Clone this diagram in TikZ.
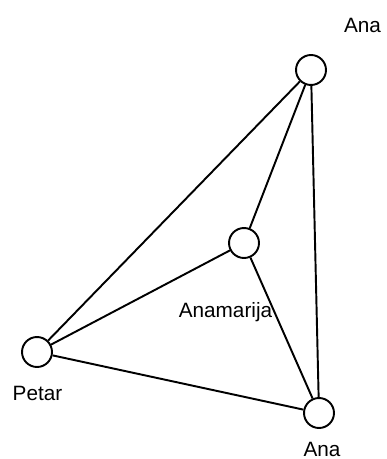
\documentclass[tikz,border=0pt]{standalone}
\usepackage{fontspec}
\setmainfont{Liberation Sans}
\usetikzlibrary{positioning}

\begin{document}
\begin{tikzpicture}[
	x=0.02cm, y=-0.02cm,
	% Styles
	person/.style={circle, draw=black, line width=1.1pt, minimum size=0.6cm, inner sep=0pt, fill=white},
	link/.style={line width=1.1pt, black},
	nametext/.style={font=\fontsize{11.8}{14}\selectfont, text=black, inner sep=0pt, anchor=base}
	]
	
	\useasboundingbox (0, 0) rectangle (386, 459);
	
	% People
	\node[person] (anaTop) at (311, 70) {};
	\node[person] (anamarija) at (244, 243) {};
	\node[person] (petar) at (37, 352) {};
	\node[person] (anaBottom) at (319, 413) {};
	
	% Names
	\node[nametext] (lblAnaTop) at (362.5, 32.5) {Ana};
	\node[nametext] (lblAnamarija) at (225.5, 317) {Anamarija};
	\node[nametext] (lblPetar) at (37.5, 400) {Petar};
	\node[nametext] (lblAnaBottom) at (322, 456) {Ana};
	
	% Links
	\draw[link] (anaTop) -- (petar);
	\draw[link] (anaTop) -- (anamarija);
	\draw[link] (anaTop) -- (anaBottom);
	\draw[link] (anamarija) -- (petar);
	\draw[link] (anamarija) -- (anaBottom);
	\draw[link] (petar) -- (anaBottom);
	
\end{tikzpicture}
\end{document}
